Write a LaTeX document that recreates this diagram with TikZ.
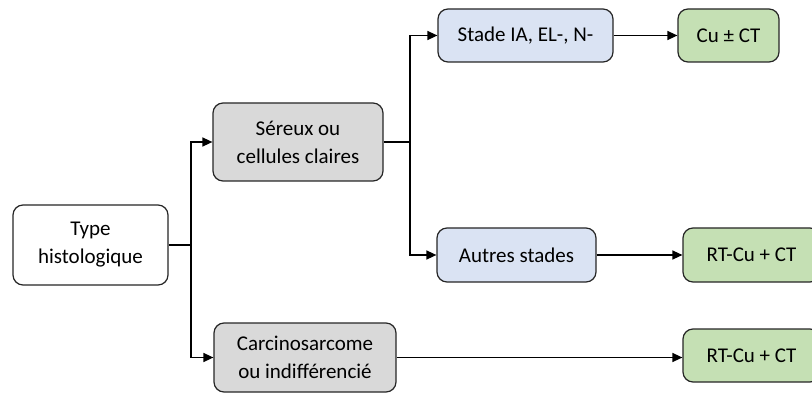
\documentclass[tikz,border=0pt]{standalone}
\usepackage{fontspec}
\setmainfont{Carlito}
\usepackage{xcolor}
\usepackage{tikz}
\usetikzlibrary{arrows.meta, positioning, calc}

\definecolor{greybox}{HTML}{D9D9D9}
\definecolor{bluebox}{HTML}{DAE3F3}
\definecolor{greenbox}{HTML}{C5E0B4}
\definecolor{edgecol}{HTML}{262626}

\begin{document}
\begin{tikzpicture}[
  x=1pt, y=-1pt,
  box/.style={rectangle, rounded corners=10pt,
              draw=edgecol, line width=1.2pt, fill=white,
              inner sep=0pt, align=center,
              font=\fontsize{21}{28}\selectfont},
  arr/.style={-{Triangle[length=10pt,width=9pt]}, line width=1.4pt, black},
  seg/.style={line width=1.4pt, black}
]
  \clip (0,0) rectangle (812,393);
  \useasboundingbox (0,0) rectangle (812,393);

  \node[box, minimum width=155pt, minimum height=80pt]
       (type) at (90.5,245) {Type\\histologique};
  \node[box, fill=greybox, minimum width=170pt, minimum height=78pt]
       (sereux) at (298,142) {Séreux ou\\cellules claires};
  \node[box, fill=greybox, minimum width=182pt, minimum height=69pt]
       (carcino) at (305,357.5) {Carcinosarcome\\ou indifférencié};
  \node[box, fill=bluebox, minimum width=175pt, minimum height=53pt]
       (stade) at (525.5,35.5) {Stade IA, EL-, N-};
  \node[box, fill=bluebox, minimum width=159pt, minimum height=54pt]
       (autres) at (516.5,255) {Autres stades};
  \node[box, fill=greenbox, minimum width=101pt, minimum height=53pt]
       (cu) at (728.5,35.5) {Cu ± CT};
  \node[box, fill=greenbox, minimum width=137pt, minimum height=54pt]
       (rtA) at (751.5,255) {RT-Cu + CT};
  \node[box, fill=greenbox, minimum width=137pt, minimum height=53pt]
       (rtB) at (751.5,355.5) {RT-Cu + CT};

  % junctions
  \coordinate (j1) at (191,245);
  \coordinate (j2) at (410,142);

  \draw[seg] (type) -- (j1);
  \draw[arr] (j1) |- (sereux);
  \draw[arr] (j1) |- (carcino);

  \draw[seg] (sereux) -- (j2);
  \draw[arr] (j2) |- (stade);
  \draw[arr] (j2) |- (autres);

  \draw[arr] (stade) -- (cu);
  \draw[arr] (autres) -- (rtA);
  \draw[arr] (carcino.east) -- (carcino.east -| rtB.west);
\end{tikzpicture}
\end{document}
